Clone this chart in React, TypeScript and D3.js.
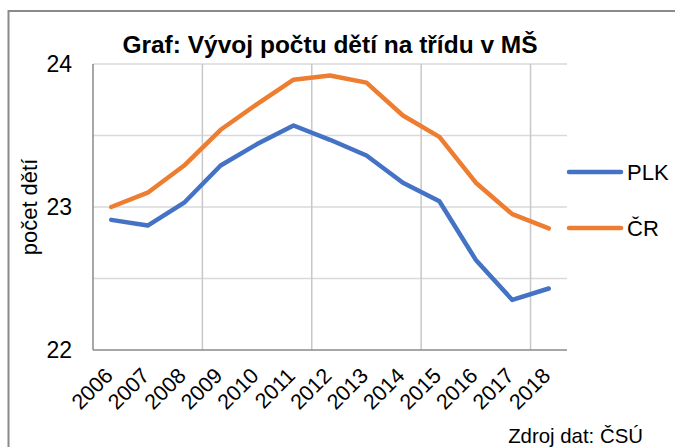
import React from "react";
import * as d3 from "d3";

// data
const years = ["2006", "2007", "2008", "2009", "2010", "2011", "2012", "2013", "2014", "2015", "2016", "2017", "2018"];
const plk = [22.91, 22.87, 23.03, 23.29, 23.44, 23.57, 23.47, 23.36, 23.17, 23.04, 22.63, 22.35, 22.43];
const cr = [23.0, 23.1, 23.29, 23.54, 23.72, 23.89, 23.92, 23.87, 23.64, 23.49, 23.17, 22.95, 22.85];
const yTicks = [22, 23, 24];
const yGrid = [22.5, 23, 23.5, 24];
const series = [
  { name: "PLK", values: plk, color: "#4472C4" },
  { name: "ČR", values: cr, color: "#ED7D31" },
];

const width = 675;
const height = 447;
const margin = { top: 64, right: 108, bottom: 97, left: 93 };
const font = "'Liberation Sans', Arial, sans-serif";

export default function App() {
  const x = d3
    .scaleBand<string>()
    .domain(years)
    .range([margin.left, width - margin.right]);
  const y = d3
    .scaleLinear()
    .domain([22, 24])
    .range([height - margin.bottom, margin.top]);
  const cx = (i: number) => (x(years[i]) ?? 0) + x.bandwidth() / 2;

  const line = d3
    .line<number>()
    .x((_, i) => cx(i))
    .y((d) => y(d));

  // vertical gridlines every 3 categories (Excel style)
  const vGrid = years.map((_, i) => i).filter((i) => i > 0 && i % 3 === 0);

  const x0 = margin.left;
  const x1 = width - margin.right;
  const yb = y(22);

  return (
    <div style={{ position: "absolute", left: 0, top: 0 }}>
      <svg width={width} height={height} style={{ display: "block", fontFamily: font }}>
        <rect x={0} y={0} width={width} height={height} fill="#fff" />
        <rect x={8.5} y={11} width={width + 20} height={height + 20} fill="#fff" stroke="#8a8a8a" strokeWidth={2} />

        {/* grid */}
        {yGrid.map((v) => (
          <line key={"h" + v} x1={x0} x2={x1} y1={y(v)} y2={y(v)} stroke="#d9d9d9" strokeWidth={1.5} />
        ))}
        {vGrid.map((i) => (
          <line key={"v" + i} x1={x(years[i])} x2={x(years[i])} y1={y(24)} y2={yb} stroke="#c8c8c8" strokeWidth={1.5} />
        ))}

        {/* axes */}
        <line x1={x0} x2={x0} y1={y(24)} y2={yb} stroke="#8a8a8a" strokeWidth={1.5} />
        <line x1={x0} x2={x1} y1={yb} y2={yb} stroke="#8a8a8a" strokeWidth={1.5} />

        {yTicks.map((v) => (
          <text key={"yt" + v} x={72} y={y(v)} dy="0.35em" textAnchor="end" fontSize={23} fill="#000">
            {v}
          </text>
        ))}

        {years.map((yr, i) => (
          <text
            key={yr}
            transform={`translate(${cx(i) + 3},${yb + 27}) rotate(-45)`}
            textAnchor="end"
            fontSize={21.5}
            fill="#000"
          >
            {yr}
          </text>
        ))}

        {/* series */}
        {series.map((s) => (
          <path
            key={s.name}
            d={line(s.values) ?? ""}
            fill="none"
            stroke={s.color}
            strokeWidth={4.5}
            strokeLinejoin="round"
            strokeLinecap="round"
          />
        ))}

        {/* legend */}
        {series.map((s, i) => (
          <g key={"lg" + s.name} transform={`translate(0,${172 + i * 56})`}>
            <line x1={569} x2={621} y1={0} y2={0} stroke={s.color} strokeWidth={4.5} strokeLinecap="round" />
            <text x={627} y={0} dy="0.36em" fontSize={22} fill="#000">
              {s.name}
            </text>
          </g>
        ))}

        {/* titles */}
        <text x={(x0 + x1) / 2} y={53} textAnchor="middle" fontSize={24.5} fontWeight="bold" fill="#000">
          Graf: Vývoj počtu dětí na třídu v MŠ
        </text>
        <text transform={`translate(37,${y(23)}) rotate(-90)`} textAnchor="middle" fontSize={22} fill="#000">
          počet dětí
        </text>
        <text x={643} y={443} textAnchor="end" fontSize={20.4} fill="#000">
          Zdroj dat: ČSÚ
        </text>
      </svg>
    </div>
  );
}
